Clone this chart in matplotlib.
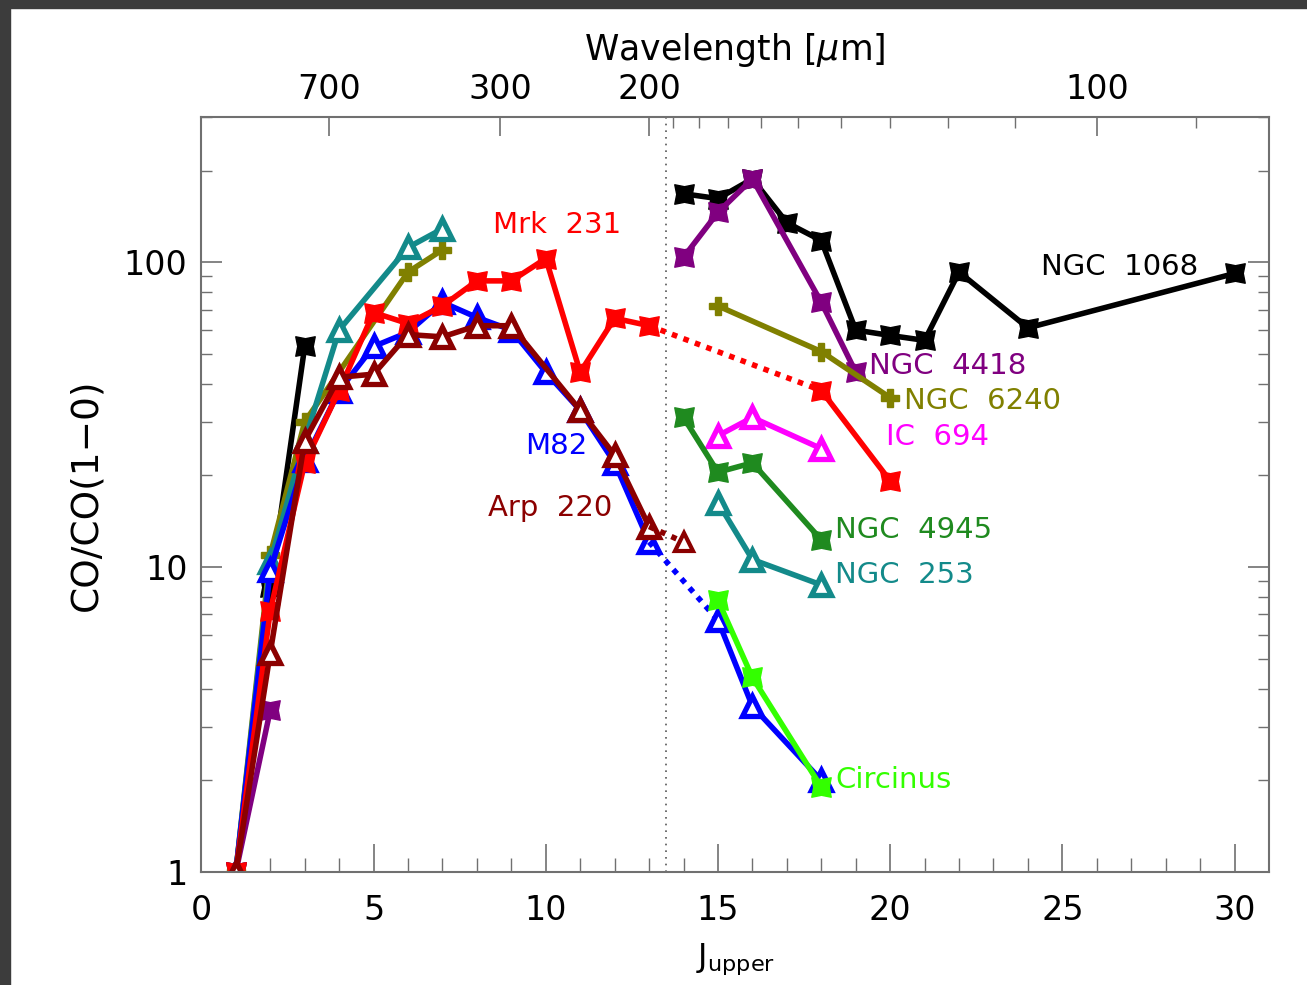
import numpy as np
import matplotlib
matplotlib.use("Agg")
import matplotlib.pyplot as plt
from matplotlib.path import Path
from matplotlib.patches import Rectangle

# CO ladders normalised to CO(1-0), vs. upper J level
ngc1068_j_lo = [1, 2, 3]
ngc1068_lo = [1.0, 8.6, 53]
ngc1068_j_hi = [14, 15, 16, 17, 18, 19, 20, 21, 22, 24, 30]
ngc1068_hi = [168, 162, 188, 135, 118, 60, 57.6, 55.5, 93, 61, 92]

ngc4418_j_lo = [1, 2]
ngc4418_lo = [1.0, 3.4]
ngc4418_j_hi = [14, 15, 16, 18, 19]
ngc4418_hi = [104, 146, 188, 74, 43.7]

ngc6240_j_lo = [1, 2, 3, 6, 7]
ngc6240_lo = [1.0, 11, 30, 93, 110]
ngc6240_j_hi = [15, 18, 20]
ngc6240_hi = [72, 51, 36]

ngc253_j_lo = [1, 2, 3, 4, 6, 7]
ngc253_lo = [1.0, 10.4, 26, 60, 112, 129]
ngc253_j_hi = [15, 16, 18]
ngc253_hi = [16.3, 10.6, 8.75]

mrk231_j_lo = [1, 2, 3, 4, 5, 6, 7, 8, 9, 10, 11, 12, 13]
mrk231_lo = [1.0, 7.2, 22, 38, 68.5, 63, 72, 87, 87, 103, 43.6, 65.6, 62]
mrk231_j_hi = [18, 20]
mrk231_hi = [38, 19.2]

m82_j_lo = [1, 2, 3, 4, 5, 6, 7, 8, 9, 10, 11, 12, 13]
m82_lo = [1.0, 9.8, 22.4, 38, 53, 59, 74, 66, 60, 43.6, 32.7, 22, 12.1]
m82_j_hi = [15, 16, 18]
m82_hi = [6.7, 3.5, 2.0]

arp220_j = [1, 2, 3, 4, 5, 6, 7, 8, 9, 11, 12, 13]
arp220 = [1.0, 5.25, 26, 42, 43, 58, 57, 62, 62, 32.7, 23.3, 13.6]
arp220_j_hi = [14]
arp220_hi = [12.1]

ic694_j = [15, 16, 18]
ic694 = [27, 31, 24.5]

ngc4945_j = [14, 15, 16, 18]
ngc4945 = [31, 20.5, 22, 12.3]

circinus_j = [15, 16, 18]
circinus = [7.8, 4.35, 1.9]

# top axis: wavelength of the CO line in micron
lam_major = [700, 300, 200, 100]
lam_minor = [190, 180, 170, 160, 150, 140, 130, 120, 110, 90]
lam_co10 = 2600.0

plt.rcParams['font.family'] = ['DejaVu Sans']

# filled square with pinched sides
pinch = Path([(-1, -1), (0, -0.8), (1, -1), (0.8, 0), (1, 1), (0, 0.8),
              (-1, 1), (-0.8, 0), (-1, -1)],
             [Path.MOVETO] + [Path.LINETO] * 7 + [Path.CLOSEPOLY])

fig = plt.figure(figsize=(13.07, 9.85), dpi=100)
ax = fig.add_axes([0.1541, 0.1147, 0.8168, 0.7665])

lw = 4.0


def sq(x, y, c, ls='-'):
    ax.plot(x, y, color=c, lw=lw, ls=ls, marker=pinch, ms=14, mfc=c, mec=c)


def tri(x, y, c, ls='-', mew=3.8):
    ax.plot(x, y, color=c, lw=lw, ls=ls, marker='^', ms=15, mfc='white',
            mec=c, mew=mew)


black, purple, olive, teal = 'black', '#800080', '#808000', '#138a8a'
red, blue, dred = '#ff0000', '#0000ff', '#8b0000'
magenta, green, lime = '#ff00ff', '#1f8a1f', '#33ff00'

sq(ngc1068_j_lo, ngc1068_lo, black)
sq(ngc1068_j_hi, ngc1068_hi, black)
sq(ngc4418_j_lo, ngc4418_lo, purple)
sq(ngc4418_j_hi, ngc4418_hi, purple)
for jj, vv in [(ngc6240_j_lo, ngc6240_lo), (ngc6240_j_hi, ngc6240_hi)]:
    ax.plot(jj, vv, color=olive, lw=lw, marker='P', ms=13, mfc=olive, mec=olive)
tri(ngc253_j_lo, ngc253_lo, teal)
tri(ngc253_j_hi, ngc253_hi, teal)

# M82
tri(m82_j_lo, m82_lo, blue)
ax.plot([m82_j_lo[-1], m82_j_hi[0]], [m82_lo[-1], m82_hi[0]], color=blue,
        lw=lw, ls=(0, (1, 1.2)))
tri(m82_j_hi, m82_hi, blue)

# Mrk 231
sq(mrk231_j_lo, mrk231_lo, red)
ax.plot([mrk231_j_lo[-1], mrk231_j_hi[0]], [mrk231_lo[-1], mrk231_hi[0]],
        color=red, lw=lw, ls=(0, (1, 1.2)))
sq(mrk231_j_hi, mrk231_hi, red)

# Arp 220
tri(arp220_j, arp220, dred)
ax.plot([arp220_j[-1], arp220_j_hi[0]], [arp220[-1], arp220_hi[0]],
        color=dred, lw=lw, ls=(0, (1, 1.2)))
ax.plot(arp220_j_hi, arp220_hi, ls='none', marker='^', ms=13, mfc='white',
        mec=dred, mew=3.0)

tri(ic694_j, ic694, magenta)
sq(ngc4945_j, ngc4945, green)
sq(circinus_j, circinus, lime)

# ground-based / space-based split
ax.axvline(13.5, color='#555555', lw=1.2, ls=(0, (1, 3)), zorder=0)

labels = [
    ('Mrk  231', 10.34, 133, red, 'center'),
    ('M82', 10.31, 25, blue, 'center'),
    ('Arp  220', 10.14, 15.7, dred, 'center'),
    ('NGC  1068', 24.38, 96.8, black, 'left'),
    ('NGC  4418', 19.39, 45.6, purple, 'left'),
    ('NGC  6240', 20.4, 35, olive, 'left'),
    ('IC  694', 19.88, 26.7, magenta, 'left'),
    ('NGC  4945', 18.4, 13.2, green, 'left'),
    ('NGC  253', 18.4, 9.44, teal, 'left'),
    ('Circinus', 18.4, 2.01, lime, 'left'),
]
for txt, x, y, c, ha in labels:
    ax.text(x, y, txt, color=c, fontsize=21, ha=ha, va='center')

ax.set_xlim(0, 31)
ax.set_yscale('log')
ax.set_ylim(1, 300)
ax.set_xticks([0, 5, 10, 15, 20, 25, 30])
ax.set_xticks(np.arange(1, 31), minor=True)
ax.set_yticks([1, 10, 100])
ax.set_yticklabels(['1', '10', '100'])
ax.set_xlabel(r'J$_{\rm upper}$', fontsize=23, labelpad=10)
ax.set_ylabel('CO/CO(1\u22120)', fontsize=27, labelpad=14)

gray = '#707070'
for s in ax.spines.values():
    s.set_color(gray)
    s.set_linewidth(1.5)
ax.tick_params(axis='x', which='major', direction='in', length=20, width=1.2,
               color=gray, labelsize=24, pad=16, top=False)
ax.tick_params(axis='x', which='minor', direction='in', length=10, width=1.0,
               color=gray, top=False)
ax.tick_params(axis='y', which='major', direction='in', length=15, width=1.2,
               color=gray, labelsize=24, pad=10, right=True)
ax.tick_params(axis='y', which='minor', direction='in', length=8, width=1.0,
               color=gray, right=True)

top = ax.twiny()
top.set_xlim(ax.get_xlim())
top.set_xticks([lam_co10 / l for l in lam_major])
top.set_xticklabels([str(l) for l in lam_major])
top.set_xticks([lam_co10 / l for l in lam_minor], minor=True)
top.tick_params(axis='x', which='major', direction='in', length=14, width=1.2,
                color=gray, labelsize=24, pad=8)
top.tick_params(axis='x', which='minor', direction='in', length=8, width=1.0,
                color=gray)
top.set_xlabel(r'Wavelength [$\mu$m]', fontsize=25, labelpad=9)
for s in top.spines.values():
    s.set_visible(False)

# dark frame along the top and left edges
fig.patches.append(Rectangle((0, 1 - 8 / 985), 1, 8 / 985, transform=fig.transFigure,
                             color='#3c3c3c', zorder=10))
fig.patches.append(Rectangle((0, 0), 10 / 1307, 1, transform=fig.transFigure,
                             color='#3c3c3c', zorder=10))

fig.savefig('out.png', dpi=100)
